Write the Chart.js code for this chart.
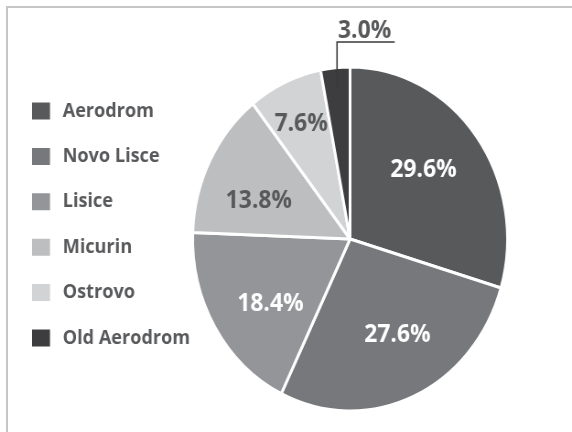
<!DOCTYPE html>
<html>
<head>
<meta charset="utf-8">
<script src="https://cdn.jsdelivr.net/npm/chart.js@4/dist/chart.umd.min.js"></script>
<style>
  html, body { margin: 0; padding: 0; background: #ffffff; }
  #wrap { position: relative; width: 572px; height: 432px; overflow: hidden; background: #ffffff; }
  #frame { position: absolute; left: 6px; top: 6px; width: 600px; height: 460px; border-left: 2px solid #c6c6c6; border-top: 2px solid #c6c6c6; box-sizing: border-box; }
  #c { position: absolute; left: 0; top: 0; width: 572px; height: 432px; }
</style>
</head>
<body>
<div id="wrap">
  <div id="frame"></div>
  <canvas id="c" width="625" height="432" style="width:572px;height:432px"></canvas>
</div>
<script>
// ---- data ----
const categories = ['Aerodrom', 'Novo Lisce', 'Lisice', 'Micurin', 'Ostrovo', 'Old Aerodrom'];
const shares = [29.6, 27.6, 18.4, 13.8, 7.6, 3.0];
const sliceColors = ['#58595b', '#77787b', '#939598', '#bcbec0', '#d1d3d4', '#3d3d3f'];
const labelColors = ['#ffffff', '#ffffff', '#ffffff', '#58595b', '#58595b', '#58595b'];

const FONT = "'Open Sans', 'DejaVu Sans', sans-serif";

const sliceLabels = {
  id: 'sliceLabels',
  afterDatasetsDraw(chart) {
    const ctx = chart.ctx;
    const meta = chart.getDatasetMeta(0);
    ctx.save();
    ctx.font = 'bold 25px ' + FONT;
    meta.data.forEach((arc, i) => {
      const p = arc.getProps(['x', 'y', 'startAngle', 'endAngle', 'outerRadius'], true);
      const mid = (p.startAngle + p.endAngle) / 2;
      const text = shares[i].toFixed(1) + '%';
      if (shares[i] >= 5) {
        const big = shares[i] >= 10;
        const f = big ? 0.625 : 0.75;
        const a = big ? mid - 5 * Math.PI / 180 : mid;
        const lx = p.x + Math.cos(a) * p.outerRadius * f;
        const ly = p.y + Math.sin(a) * p.outerRadius * f + 2;
        ctx.fillStyle = labelColors[i];
        ctx.textAlign = 'center';
        ctx.textBaseline = 'middle';
        ctx.fillText(text, lx, ly);
      } else {
        const px = p.x + Math.cos(mid) * p.outerRadius * 0.88;
        const py = p.y + Math.sin(mid) * p.outerRadius * 0.88;
        const kneeY = p.y - p.outerRadius * 1.145;
        const tw = 63;
        ctx.strokeStyle = '#3a3a3a';
        ctx.lineWidth = 1.6;
        ctx.beginPath();
        ctx.moveTo(px, py);
        ctx.lineTo(px, kneeY);
        ctx.lineTo(px + tw, kneeY);
        ctx.stroke();
        ctx.fillStyle = labelColors[i];
        ctx.textAlign = 'left';
        ctx.textBaseline = 'alphabetic';
        ctx.fillText(text, px + 1, kneeY - 4);
      }
    });
    ctx.restore();
  }
};

new Chart(document.getElementById('c'), {
  type: 'pie',
  data: {
    labels: categories,
    datasets: [{
      data: shares,
      backgroundColor: sliceColors,
      borderColor: '#ffffff',
      borderWidth: 3,
      hoverBorderWidth: 3,
      hoverOffset: 0,
      offset: 0,
      clip: false
    }]
  },
  options: {
    responsive: false,
    devicePixelRatio: 1,
    animation: false,
    events: [],
    radius: 172,
    layout: { padding: { left: 10.6, right: 75, top: 17, bottom: 0 } },
    plugins: {
      tooltip: { enabled: false },
      title: {
        display: true,
        text: '',
        position: 'top',
        font: { size: 12 },
        padding: { top: 7, bottom: 7.6 }
      },
      legend: {
        display: true,
        position: 'left',
        align: 'center',
        maxWidth: 204.4,
        labels: {
          boxWidth: 27.6,
          boxHeight: 25,
          padding: 20.4,
          color: '#58595b',
          font: { family: FONT, size: 19.8, weight: 'bold' },
          generateLabels(chart) {
            const base = Chart.overrides.pie.plugins.legend.labels.generateLabels(chart);
            return base.map(l => Object.assign({}, l, { lineWidth: 8, strokeStyle: '#ffffff' }));
          }
        }
      }
    }
  },
  plugins: [sliceLabels]
});
</script>
</body>
</html>
